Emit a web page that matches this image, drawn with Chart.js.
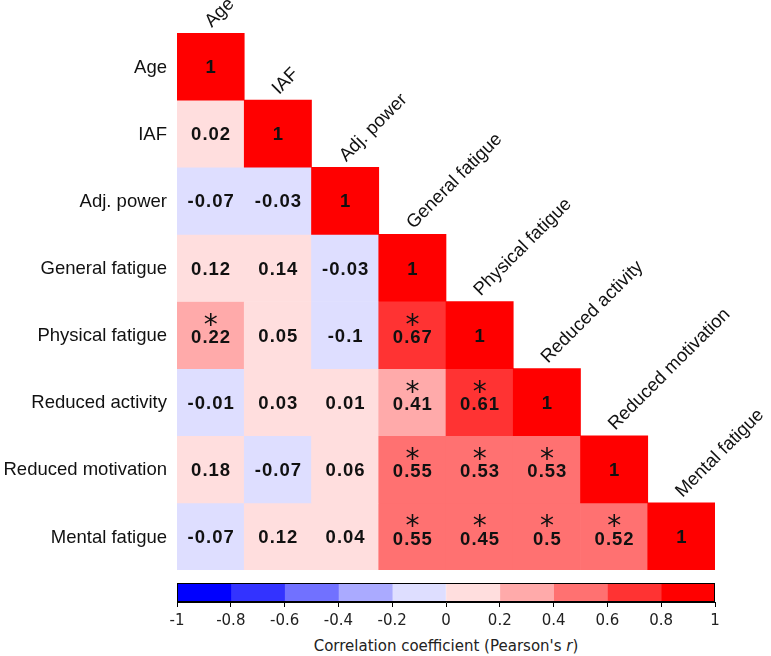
<!DOCTYPE html>
<html>
<head>
<meta charset="utf-8">
<script src="https://cdn.jsdelivr.net/npm/chart.js@4.4.0/dist/chart.umd.min.js"></script>
<style>
  body { margin: 0; background: #fff; width: 771px; height: 656px; position: relative; overflow: hidden; }
  #heatChart { position: absolute; left: 0; top: 0; }
  #barChart { position: absolute; left: 0; top: 570px; }
  #cbTitle { position: absolute; left: 177px; width: 538px; top: 637px; text-align: center;
             font-family: "DejaVu Sans"; font-size: 15px; color: #222; }
</style>
</head>
<body>
<canvas id="heatChart" width="771" height="570"></canvas>
<canvas id="barChart" width="771" height="64"></canvas>
<div id="cbTitle">Correlation coefficient (Pearson's <i>r</i>)</div>

<script>
// Data Block
const variables = ['Age', 'IAF', 'Adj. power', 'General fatigue', 'Physical fatigue',
                   'Reduced activity', 'Reduced motivation', 'Mental fatigue'];

// lower triangle, row by row
const rAge        = [1];
const rIAF        = [0.02, 1];
const rAdjPower   = [-0.07, -0.03, 1];
const rGeneral    = [0.12, 0.14, -0.03, 1];
const rPhysical   = [0.22, 0.05, -0.1, 0.67, 1];
const rActivity   = [-0.01, 0.03, 0.01, 0.41, 0.61, 1];
const rMotivation = [0.18, -0.07, 0.06, 0.55, 0.53, 0.53, 1];
const rMental     = [-0.07, 0.12, 0.04, 0.55, 0.45, 0.5, 0.52, 1];
const corr = [rAge, rIAF, rAdjPower, rGeneral, rPhysical, rActivity, rMotivation, rMental];

// significant cells (asterisk), [row, col]
const significant = [[4, 0], [4, 3], [5, 3], [5, 4], [6, 3], [6, 4], [6, 5], [7, 3], [7, 4], [7, 5], [7, 6]];

// colour bar
const cbEdges = [-1, -0.8, -0.6, -0.4, -0.2, 0, 0.2, 0.4, 0.6, 0.8, 1];
const cbTicks = [-1, -0.8, -0.6, -0.4, -0.2, 0, 0.2, 0.4, 0.6, 0.8, 1];
const cbColors = ['#0000ff', '#3333ff', '#7171ff', '#aaaaff', '#dedeff',
                  '#ffdede', '#ffaaaa', '#ff7171', '#ff3333', '#ff0000'];

// Setup Block
// the figure puts 0.41 in the 0.2-0.4 shade, so the 0.4 edge is nudged a little
const shadeEdges = [-0.8, -0.6, -0.4, -0.2, 0, 0.2, 0.42, 0.6, 0.8];
function cellColor(v) {
  let k = 0;
  while (k < shadeEdges.length && v >= shadeEdges[k]) k++;
  return cbColors[k];
}
function isSig(i, j) {
  return significant.some(s => s[0] === i && s[1] === j);
}

const labelFont = '18.5px "Liberation Sans", Arial, sans-serif';

const heatLabels = {
  id: 'heatLabels',
  afterDatasetsDraw(chart) {
    const ctx = chart.ctx;
    const xs = chart.scales.x, ys = chart.scales.y;
    ctx.save();
    ctx.fillStyle = '#111';
    // row labels
    ctx.font = labelFont;
    ctx.textAlign = 'right';
    ctx.textBaseline = 'middle';
    variables.forEach((name, i) => {
      ctx.fillText(name, xs.left - 10, ys.getPixelForValue(i + 0.5) + 1);
    });
    // column labels, rotated
    ctx.textAlign = 'left';
    ctx.textBaseline = 'alphabetic';
    variables.forEach((name, j) => {
      ctx.save();
      ctx.translate(xs.getPixelForValue(j) + 1, ys.getPixelForValue(j) - 5);
      ctx.rotate(-Math.PI / 4);
      ctx.fillText(name, 0, 0);
      ctx.restore();
    });
    // cell values
    ctx.textAlign = 'center';
    corr.forEach((row, i) => {
      row.forEach((v, j) => {
        const x = xs.getPixelForValue(j);
        const y = ys.getPixelForValue(i + 0.5);
        const sig = isSig(i, j);
        ctx.font = 'bold 18.5px "Liberation Sans", Arial, sans-serif';
        ctx.letterSpacing = '1px';
        ctx.textBaseline = 'middle';
        ctx.fillText(String(v), x + 0.5, y + (sig ? 3 : 1.5));
        ctx.letterSpacing = '0px';
        if (sig) {
          ctx.font = '28px "DejaVu Sans", sans-serif';
          ctx.textBaseline = 'alphabetic';
          ctx.fillText('*', x, y - 1);
        }
      });
    });
    ctx.restore();
  }
};

// Config Block
const heatConfig = {
  type: 'bar',
  data: {
    labels: variables,
    datasets: corr.map((row, i) => ({
      label: variables[i],
      data: variables.map((c, j) => j <= i ? [i, i + 1] : null),
      backgroundColor: variables.map((c, j) => j <= i ? cellColor(row[j]) : 'rgba(0,0,0,0)'),
      borderWidth: 0,
      grouped: false,
      barPercentage: 1,
      categoryPercentage: 1
    }))
  },
  options: {
    responsive: false,
    animation: false,
    layout: { padding: { left: 177, right: 56, top: 33, bottom: 0 } },
    scales: {
      x: { display: false },
      y: { type: 'linear', min: 0, max: 8, reverse: true, display: false }
    },
    plugins: { legend: { display: false }, tooltip: { enabled: false } }
  },
  plugins: [heatLabels]
};

const frameBox = {
  id: 'frameBox',
  afterDatasetsDraw(chart) {
    const a = chart.chartArea, ctx = chart.ctx;
    ctx.save();
    ctx.strokeStyle = '#000';
    ctx.lineWidth = 1;
    ctx.strokeRect(Math.round(a.left) + 0.5, Math.round(a.top) + 0.5,
                   Math.round(a.right - a.left) - 1, Math.round(a.bottom - a.top) - 1);
    ctx.restore();
  }
};

const barConfig = {
  type: 'bar',
  data: {
    labels: [''],
    datasets: cbColors.map((c, k) => ({
      data: [[cbEdges[k], cbEdges[k + 1]]],
      backgroundColor: c,
      borderWidth: 0,
      grouped: false,
      barPercentage: 1,
      categoryPercentage: 1
    }))
  },
  options: {
    indexAxis: 'y',
    responsive: false,
    animation: false,
    layout: { padding: { left: 177, right: 56, top: 13, bottom: 2 } },
    scales: {
      x: {
        type: 'linear', min: -1, max: 1,
        afterBuildTicks: s => { s.ticks = cbTicks.map(v => ({ value: v })); },
        afterFit: s => { s.height = 30; },
        ticks: {
          callback: v => String(Math.round(v * 10) / 10),
          font: { family: 'DejaVu Sans', size: 15 },
          color: '#222',
          padding: 5,
          maxRotation: 0
        },
        grid: { drawOnChartArea: false, tickLength: 5, color: '#000' },
        border: { color: '#000' }
      },
      y: { display: false }
    },
    plugins: { legend: { display: false }, tooltip: { enabled: false } }
  },
  plugins: [frameBox]
};

// Render/Init Block
new Chart(document.getElementById('heatChart').getContext('2d'), heatConfig);
new Chart(document.getElementById('barChart').getContext('2d'), barConfig);
</script>
</body>
</html>
